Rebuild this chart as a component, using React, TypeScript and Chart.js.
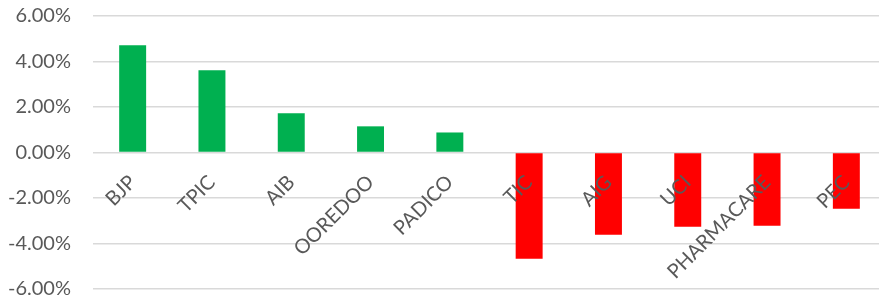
import React, { useEffect, useRef } from "react";
import { Chart, registerables } from "chart.js";

Chart.register(...registerables);

const categories = ["BJP", "TPIC", "AIB", "OOREDOO", "PADICO", "TIC", "AIG", "UCI", "PHARMACARE", "PEC"];
const changes = [4.71, 3.61, 1.72, 1.15, 0.88, -4.67, -3.61, -3.26, -3.22, -2.47];
const yTicks = [-6, -4, -2, 0, 2, 4, 6];

const GREEN = "#00B050";
const RED = "#FF0000";
const TEXT = "#595959";
const GRID = "#D9D9D9";
const FONT = "Lato";

export default function App() {
  const ref = useRef<HTMLCanvasElement | null>(null);

  useEffect(() => {
    let chart: Chart | null = null;
    let cancelled = false;
    const make = () => {
      if (cancelled || !ref.current) return;
      chart = new Chart(ref.current, {
        type: "bar",
        data: {
          labels: categories,
          datasets: [
            {
              data: changes,
              backgroundColor: changes.map((v) => (v >= 0 ? GREEN : RED)),
              barPercentage: 0.34,
              categoryPercentage: 1,
            },
          ],
        },
        options: {
          animation: false,
          responsive: true,
          maintainAspectRatio: false,
          layout: { padding: { top: 16, bottom: 15, left: 4, right: 2 } },
          plugins: { legend: { display: false }, tooltip: { enabled: false } },
          scales: {
            x: {
              position: { y: 0 } as any,
              grid: { display: false, drawTicks: false },
              border: { display: false },
              afterFit: (scale: any) => {
                scale.height = 0;
                scale.paddingLeft = 0;
                scale.paddingRight = 0;
                scale.paddingTop = 0;
                scale.paddingBottom = 0;
              },
              ticks: {
                z: 1,
                color: TEXT,
                font: { family: FONT, size: 20 },
                autoSkip: false,
                minRotation: 45,
                maxRotation: 45,
                padding: 18,
              },
            },
            y: {
              min: -6,
              max: 6,
              afterBuildTicks: (scale: any) => {
                scale.ticks = yTicks.map((v) => ({ value: v }));
              },
              afterFit: (scale: any) => {
                scale.width = 89;
                scale.paddingTop = 0;
                scale.paddingBottom = 0;
              },
              grid: { color: GRID, lineWidth: 1.5, drawTicks: false },
              border: { display: false },
              ticks: {
                color: TEXT,
                font: { family: FONT, size: 20 },
                padding: 22,
                callback: (v: any) => Number(v).toFixed(2) + "%",
              },
            },
          },
        },
      });
    };
    const fonts = (document as any).fonts;
    if (fonts && fonts.load) {
      fonts
        .load(`20px ${FONT}`)
        .catch(() => null)
        .then(() => make());
    } else {
      make();
    }
    return () => {
      cancelled = true;
      if (chart) chart.destroy();
    };
  }, []);

  return (
    <div style={{ position: "absolute", left: 0, top: 0, width: 879, height: 304, overflow: "hidden", background: "#fff" }}>
      <div style={{ position: "relative", width: 888, height: 304 }}>
        <canvas ref={ref} />
      </div>
    </div>
  );
}
